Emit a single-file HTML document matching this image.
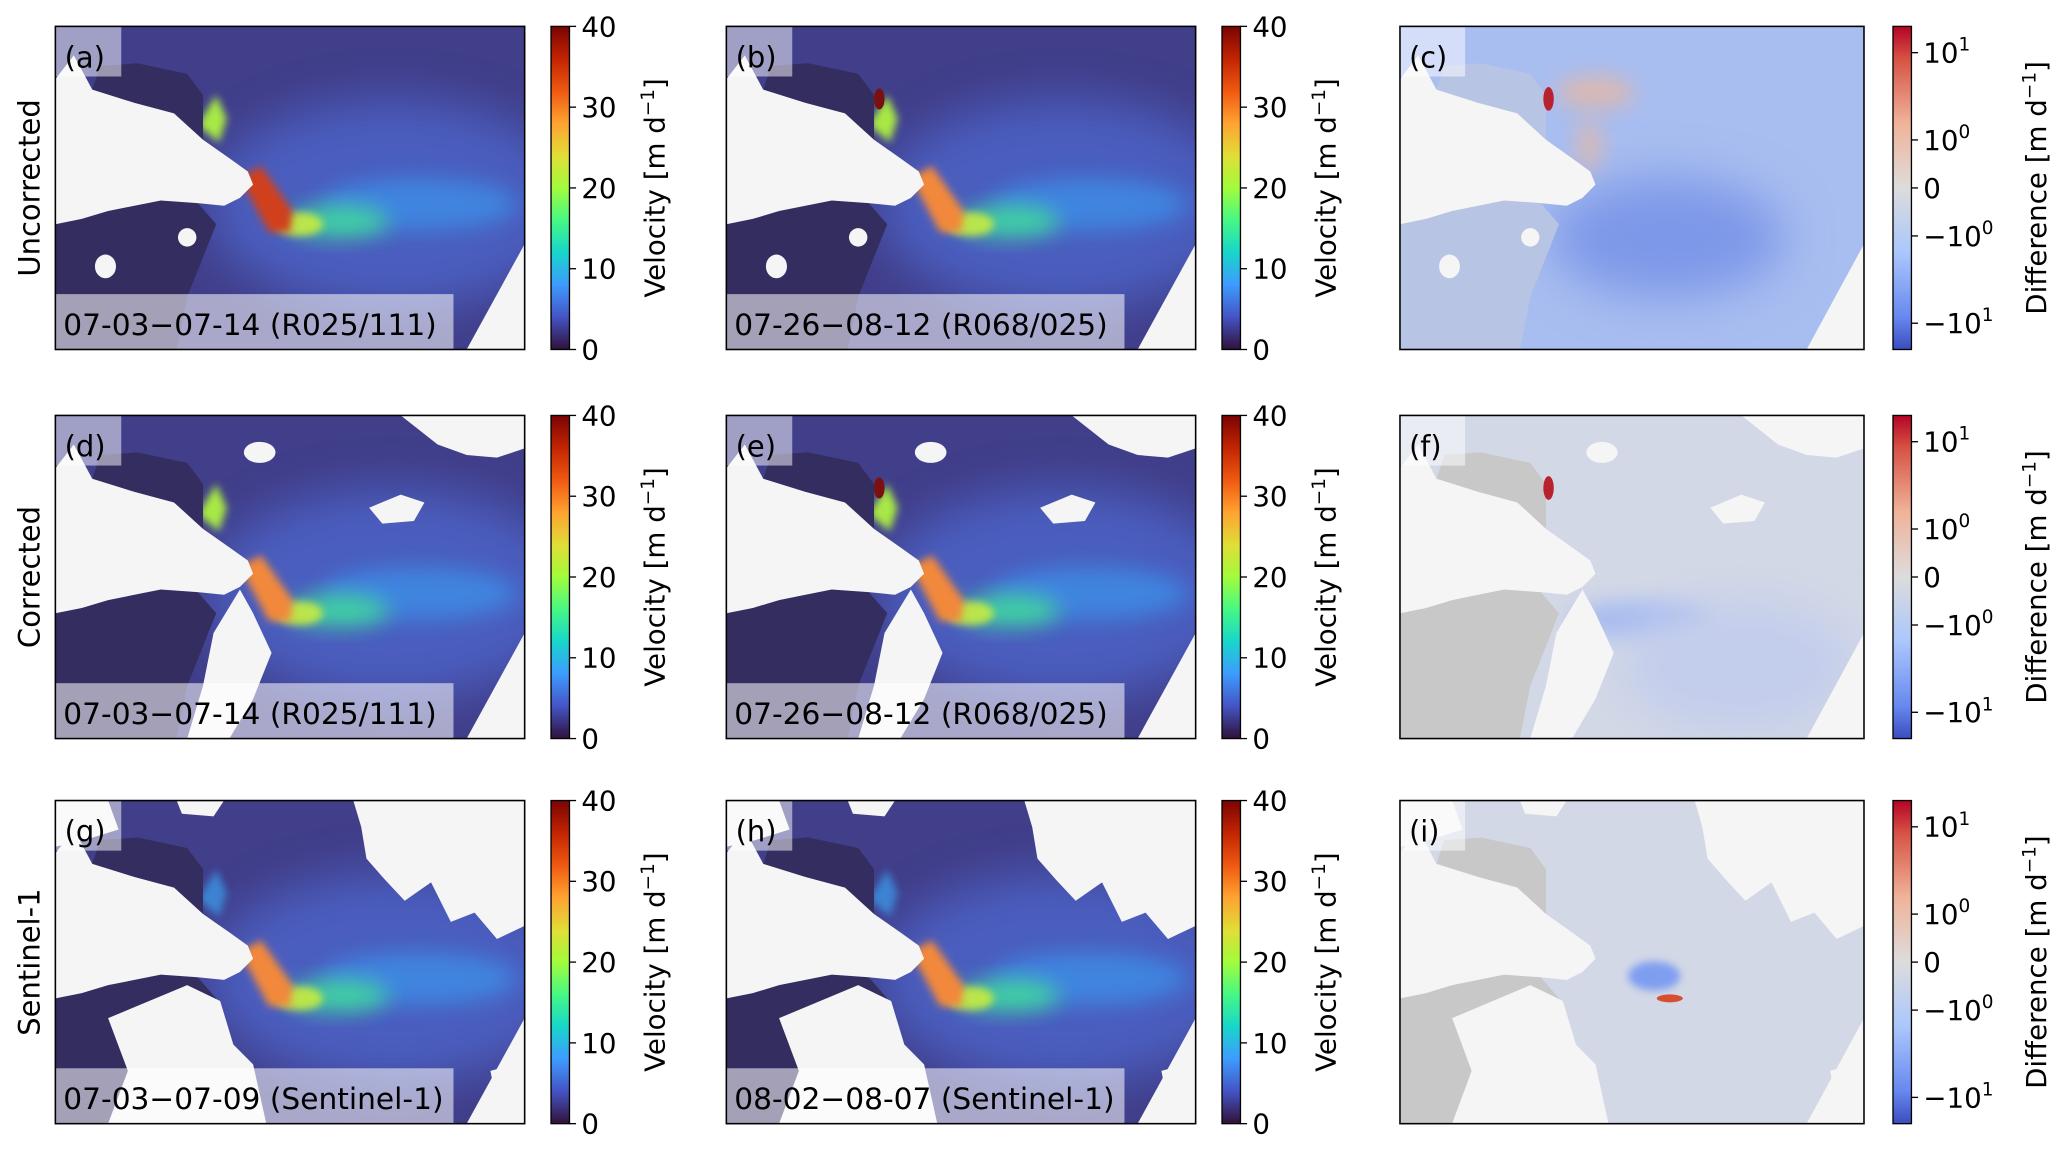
<!DOCTYPE html>
<html><head><meta charset="utf-8"><style>
html,body{margin:0;padding:0;background:#fff;}
svg{display:block;font-family:"DejaVu Sans","Liberation Sans",sans-serif;}
</style></head><body>
<svg id="fig" width="2067" height="1154" viewBox="0 0 1568 875" preserveAspectRatio="none" xmlns="http://www.w3.org/2000/svg">
<defs>
<linearGradient id="turbo" x1="0" y1="1" x2="0" y2="0">
<stop offset="0" stop-color="#30123b"/><stop offset="0.1" stop-color="#4454c4"/><stop offset="0.2" stop-color="#3e9bfe"/><stop offset="0.3" stop-color="#18d6cb"/><stop offset="0.4" stop-color="#46f884"/><stop offset="0.5" stop-color="#a2fc3c"/><stop offset="0.6" stop-color="#e1dd37"/><stop offset="0.7" stop-color="#fea331"/><stop offset="0.8" stop-color="#ef5911"/><stop offset="0.9" stop-color="#c22402"/><stop offset="1" stop-color="#7a0403"/>
</linearGradient>
<linearGradient id="coolwarm" x1="0" y1="1" x2="0" y2="0">
<stop offset="0" stop-color="#3b4cc0"/><stop offset="0.1" stop-color="#6788ee"/><stop offset="0.3" stop-color="#aac7fd"/><stop offset="0.5" stop-color="#dddcdc"/><stop offset="0.7" stop-color="#f0b39a"/><stop offset="0.9" stop-color="#d65244"/><stop offset="1" stop-color="#b40426"/>
</linearGradient>
<filter id="b8" x="-50%" y="-50%" width="200%" height="200%"><feGaussianBlur stdDeviation="8"/></filter>
<filter id="b4" x="-50%" y="-50%" width="200%" height="200%"><feGaussianBlur stdDeviation="3"/></filter>
<filter id="b16" x="-50%" y="-50%" width="200%" height="200%"><feGaussianBlur stdDeviation="18"/></filter>
</defs>
</svg>
<script>
const velTicks=[0,10,20,30,40];
const velMax=40;
const diffTicks=[10,1,0,-1,-10];
const diffTickLabels=["10","10","0","−10","−10"];
const diffTickExp=["1","0","","0","1"];
const diffMax=20;
const rowLabels=["Uncorrected","Corrected","Sentinel-1"];
const panelLetters=[["(a)","(b)","(c)"],["(d)","(e)","(f)"],["(g)","(h)","(i)"]];
const dateLabels=[["07-03−07-14 (R025/111)","07-26−08-12 (R068/025)"],["07-03−07-14 (R025/111)","07-26−08-12 (R068/025)"],["07-03−07-09 (Sentinel-1)","08-02−08-07 (Sentinel-1)"]];

const NS="http://www.w3.org/2000/svg";
const fig=document.getElementById('fig');
const rowsY=[20,315,607], colsX=[42,551,1062], colsW=[356,356,352], PH=245;
const cbX=[418,927,1436], CBW=14;
function mk(tag,attrs,parent){const e=document.createElementNS(NS,tag);for(const k in attrs)e.setAttribute(k,attrs[k]);(parent||fig).appendChild(e);return e;}
function symlog(v){const a=0.55;const s=Math.sign(v),m=Math.abs(v);return m<=1?v*a:s*(a+Math.log10(m));}
function diffY(v,y0){const top=symlog(diffMax);return y0+PH/2-(symlog(v)/top)*(PH/2);}
function velY(v,y0){return y0+PH-(v/velMax)*PH;}

const glacier="0,40 14,22 28,48 60,58 90,66 112,86 132,100 146,110 150,120 140,130 128,136 108,134 80,132 60,136 40,140 20,146 0,150";
const darkLand="0,150 20,146 40,140 60,134 80,132 108,134 122,150 112,175 100,205 92,245 0,245";
const darkTop="28,48 34,30 62,28 100,36 112,52 112,86 90,66 60,58";
const row3White=["226,0 356,0 356,95 335,105 318,85 300,92 285,62 265,76 250,60 236,44 232,20","0,0 40,0 48,22 22,30 0,35","92,0 128,0 120,12 96,10","40,165 100,140 125,152 135,185 150,200 160,245 40,245 55,205","330,205 356,198 356,245 338,245"];
const row2White=["262,0 356,0 356,25 335,32 312,30 290,22","238,70 262,60 280,66 272,80 248,82","140,132 150,150 164,180 150,215 132,245 100,245 112,205 120,165"];

for(let r=0;r<3;r++){
  const y0=rowsY[r];
  const rl=mk('text',{x:0,y:0,'font-size':22,'text-anchor':'middle',transform:`translate(30,${y0+PH/2}) rotate(-90)`});
  
  
  rl.textContent=rowLabels[r];
  for(let c=0;c<3;c++){
    const x0=colsX[c],w=colsW[c];
    const isDiff=c===2;
    const g=mk('g',{transform:`translate(${x0},${y0}) scale(${w/356},1)`});
    
    
    const clipId='clip'+r+c;
    const cp=mk('clipPath',{id:clipId},g);mk('rect',{x:0,y:0,width:356,height:PH},cp);
    const m=mk('g',{'clip-path':`url(#${clipId})`},g);
    if(!isDiff){
      mk('rect',{x:0,y:0,width:356,height:PH,fill:'#413e8a'},m);
      mk('ellipse',{cx:255,cy:135,rx:140,ry:80,fill:'#4e66cc',opacity:0.8,filter:'url(#b16)'},m);
      mk('ellipse',{cx:275,cy:135,rx:75,ry:20,fill:'#3c8ee8',opacity:0.8,filter:'url(#b8)'},m);
      mk('ellipse',{cx:215,cy:148,rx:38,ry:12,fill:'#40d8a0',opacity:0.95,filter:'url(#b8)'},m);
      mk('ellipse',{cx:185,cy:150,rx:18,ry:9,fill:'#c8ec40',opacity:0.9,filter:'url(#b4)'},m);
      mk('polygon',{points:"108,75 122,52 130,70 124,88",fill:r==2?'#3aa0f0':'#a8e844',opacity:r==2?0.7:1,filter:'url(#b4)'},m);
      mk('polygon',{points:"140,115 156,106 180,140 178,156 162,156",fill:(r==0&&c==0)?'#d0401c':'#f2883a',filter:'url(#b4)'},m);
      mk('polygon',{points:darkLand,fill:'#342d60'},m);
      mk('polygon',{points:darkTop,fill:'#342d60'},m);
      if(c==1&&r<2) mk('ellipse',{cx:116,cy:55,rx:4,ry:8,fill:'#7a1010'},m);
    } else {
      const base=r==0?'#a8bdf0':'#d3d8e6';
      mk('rect',{x:0,y:0,width:356,height:PH,fill:base},m);
      if(r==0){
        mk('ellipse',{cx:205,cy:160,rx:90,ry:45,fill:'#7d98e8',filter:'url(#b16)'},m);
        mk('ellipse',{cx:150,cy:50,rx:30,ry:12,fill:'#e8b8a0',opacity:0.8,filter:'url(#b8)'},m);
        mk('ellipse',{cx:145,cy:90,rx:10,ry:20,fill:'#e8b8a0',opacity:0.7,filter:'url(#b8)'},m);
      }
      if(r==1){mk('ellipse',{cx:185,cy:155,rx:55,ry:14,fill:'#a4baf0',filter:'url(#b8)'},m);mk('ellipse',{cx:260,cy:190,rx:90,ry:50,fill:'#c3cdec',filter:'url(#b16)'},m);}
      if(r==2){mk('ellipse',{cx:195,cy:133,rx:20,ry:11,fill:'#7f9ef0',filter:'url(#b4)'},m);mk('ellipse',{cx:207,cy:150,rx:10,ry:3,fill:'#d65030'},m);}
      mk('polygon',{points:darkLand,fill:r==0?'#b8c4e4':'#c8c8c8'},m);
      mk('polygon',{points:darkTop,fill:r==0?'#b8c4e4':'#c8c8c8'},m);
      if(r<2) mk('ellipse',{cx:114,cy:55,rx:4,ry:9,fill:'#b8222e'},m);
    }
    mk('polygon',{points:glacier,fill:'#f5f5f5'},m);
    mk('polygon',{points:"356,165 356,245 312,245",fill:'#f5f5f5'},m);
    if(r==1){row2White.forEach(p=>mk('polygon',{points:p,fill:'#f5f5f5'},m));mk('ellipse',{cx:155,cy:28,rx:12,ry:8,fill:'#f5f5f5'},m);}
    if(r==2){row3White.forEach(p=>mk('polygon',{points:p,fill:'#f5f5f5'},m));}
    if(r==0){mk('ellipse',{cx:38,cy:182,rx:8,ry:9,fill:'#f5f5f5'},m);mk('ellipse',{cx:100,cy:160,rx:7,ry:7,fill:'#f5f5f5'},m);}
    mk('rect',{x:0,y:0,width:50,height:38,fill:'#ffffff',opacity:0.5},m);
    const lt=mk('text',{x:7,y:31,'font-size':22},g);
    
    lt.textContent=panelLetters[r][c];
    if(!isDiff){
      mk('rect',{x:0,y:203,width:302,height:42,fill:'#ffffff',opacity:0.55},m);
      const dt=mk('text',{x:6,y:234,'font-size':22.5},g);
      
      dt.textContent=dateLabels[r][c];
    }
    mk('rect',{x:0,y:0,width:356,height:PH,fill:'none',stroke:'#000','stroke-width':1.2},g);

    const cx=cbX[c];
    const cb=mk('g',{});
    
    
    mk('rect',{x:cx,y:y0,width:CBW,height:PH,fill:isDiff?'url(#coolwarm)':'url(#turbo)',stroke:'#000','stroke-width':1},cb);
    if(!isDiff){
      velTicks.forEach(v=>{const ty=velY(v,y0);mk('line',{x1:cx+CBW,x2:cx+CBW+5,y1:ty,y2:ty,stroke:'#000','stroke-width':1},cb);
        const t=mk('text',{x:cx+CBW+9,y:ty+7.5,'font-size':21},cb);t.textContent=v;});
      const lab=mk('text',{x:0,y:0,'font-size':21,'text-anchor':'middle',transform:`translate(${cx+86},${y0+PH/2}) rotate(-90)`},cb);
      lab.innerHTML='Velocity [m d<tspan dy="-8" font-size="14">−1</tspan><tspan dy="8">]</tspan>';
    } else {
      diffTicks.forEach((v,i)=>{const ty=diffY(v,y0);mk('line',{x1:cx+CBW,x2:cx+CBW+5,y1:ty,y2:ty,stroke:'#000','stroke-width':1},cb);
        const t=mk('text',{x:cx+CBW+9,y:ty+7.5,'font-size':21},cb);
        t.innerHTML=diffTickLabels[i]+(diffTickExp[i]?'<tspan dy="-9" font-size="14">'+diffTickExp[i]+'</tspan>':'');});
      const lab=mk('text',{x:0,y:0,'font-size':21,'text-anchor':'middle',transform:`translate(${cx+116},${y0+PH/2}) rotate(-90)`},cb);
      lab.innerHTML='Difference [m d<tspan dy="-8" font-size="14">−1</tspan><tspan dy="8">]</tspan>';
    }
  }
}
</script>
</body></html>
